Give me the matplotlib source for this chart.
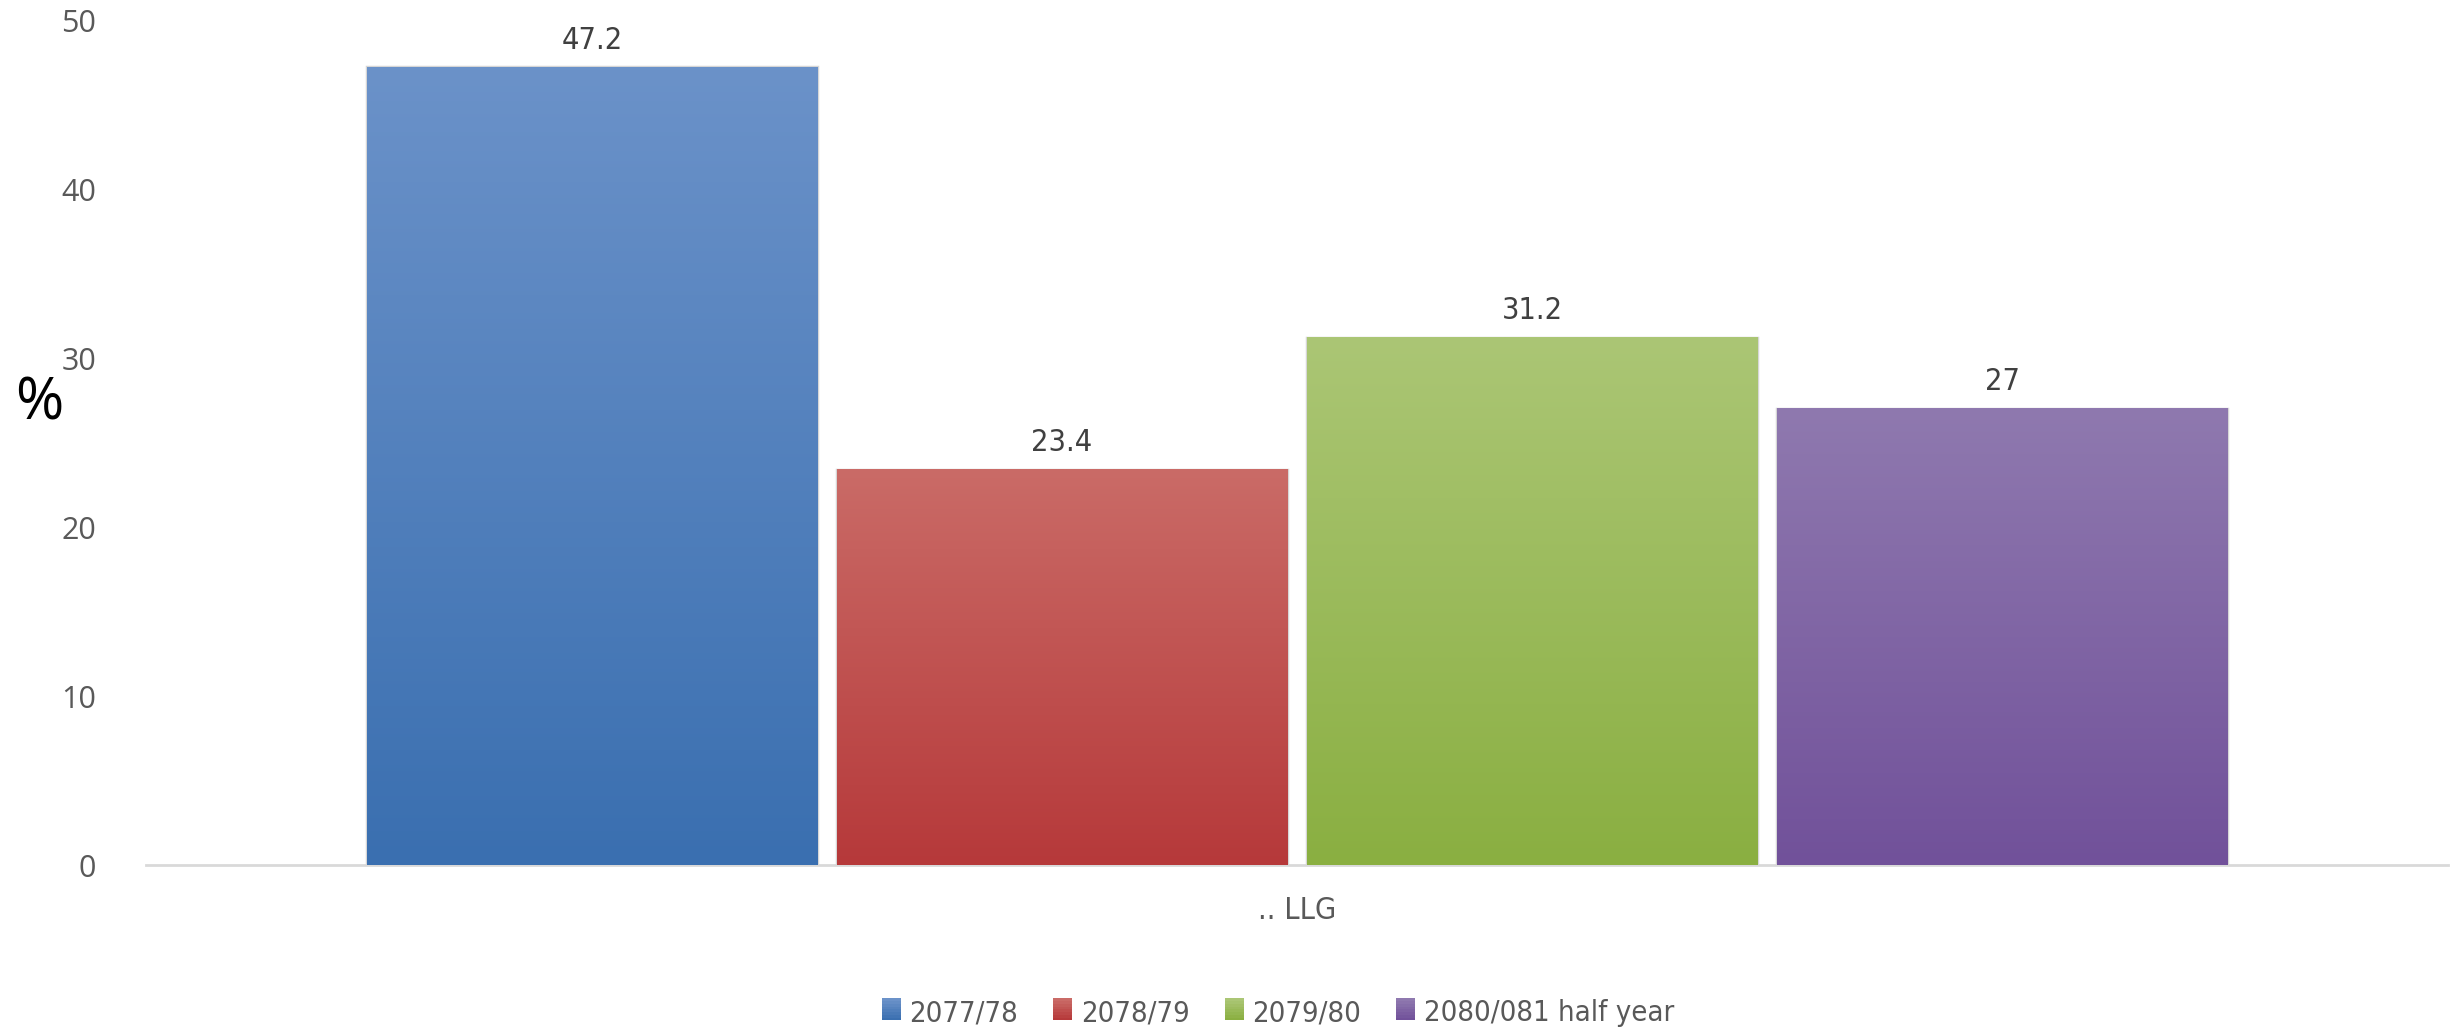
import numpy as np
import matplotlib
matplotlib.use("Agg")
import matplotlib.pyplot as plt
from matplotlib.colors import LinearSegmentedColormap
from matplotlib.patches import Patch
from matplotlib.legend_handler import HandlerBase
from matplotlib import font_manager

# data
category = ".. LLG"
series = ["2077/78", "2078/79", "2079/80", "2080/081 half year"]
values = [47.2, 23.4, 31.2, 27]
labels = ["47.2", "23.4", "31.2", "27"]
# (top colour, bottom colour) of each bar gradient
top_cols = ["#6b92c9", "#ca6b67", "#abc675", "#8f79af"]
bot_cols = ["#3a6fb0", "#b6393a", "#8aaf41", "#71519a"]

# narrow face for the labels, like the Calibri look of the original
names = set(f.name for f in font_manager.fontManager.ttflist)
if "DejaVu Sans Condensed" in names:
	narrow = font_manager.FontProperties(family="DejaVu Sans Condensed")
else:
	narrow = font_manager.FontProperties(family="DejaVu Sans", stretch="condensed")
tickfont = ["Open Sans", "DejaVu Sans"]

def nf(size):
	p = narrow.copy()
	p.set_size(size)
	return p

fig = plt.figure(figsize=(24.53, 10.31), dpi=100)
ax = fig.add_axes([0.0595, 0.161, 0.9385, 0.8196])

width = 0.1955
step = 0.2042
offsets = (np.arange(len(values)) - 1.5) * step

for i, v in enumerate(values):
	x0 = offsets[i] - width / 2
	x1 = offsets[i] + width / 2
	# shadow / outline
	ax.bar(offsets[i], v, width=width, color="none", edgecolor="#d6d6d6", linewidth=2.5, zorder=2)
	cmap = LinearSegmentedColormap.from_list("g%d" % i, [bot_cols[i], top_cols[i]])
	grad = np.linspace(0, 1, 256).reshape(-1, 1)
	ax.imshow(grad, cmap=cmap, origin="lower", extent=(x0, x1, 0, v), aspect="auto", zorder=3)
	ax.text(offsets[i], v + 0.75, labels[i], ha="center", va="bottom", fontproperties=nf(22),
		color="#404040")

ax.set_xlim(-0.5, 0.5)
ax.set_ylim(0, 50)
ax.set_yticks([0, 10, 20, 30, 40, 50])
ax.set_xticks([0])
ax.set_xticklabels([category], fontproperties=nf(22), color="#595959")
for t in ax.get_yticklabels():
	t.set_family(tickfont)
	t.set_fontsize(22)
	t.set_color("#595959")
ax.tick_params(axis="both", length=0)
ax.tick_params(axis="y", pad=36)
ax.tick_params(axis="x", pad=22)

for s in ["top", "right", "left"]:
	ax.spines[s].set_visible(False)
ax.spines["bottom"].set_color("#d9d9d9")
ax.spines["bottom"].set_linewidth(2)
ax.spines["bottom"].set_zorder(1)

fig.text(0.006, 0.608, "%", fontsize=42, color="black", family=tickfont, va="center", ha="left")

# legend keys with the same gradient as the bars
class GradHandler(HandlerBase):
	def __init__(self, i):
		super().__init__()
		self.i = i
	def create_artists(self, legend, orig, xd, yd, w, h, fontsize, trans):
		cmap = LinearSegmentedColormap.from_list("l%d" % self.i, [bot_cols[self.i], top_cols[self.i]])
		arts = []
		n = 8
		for k in range(n):
			r = plt.Rectangle((xd, yd + h * k / n), w, h / n + 0.2, facecolor=cmap(k / (n - 1)),
				edgecolor="none", transform=trans)
			arts.append(r)
		return arts

handles = [Patch(facecolor=bot_cols[i], edgecolor="none") for i in range(len(series))]
hmap = {handles[i]: GradHandler(i) for i in range(len(series))}
leg = fig.legend(handles, series, loc="center", bbox_to_anchor=(0.521, 0.017), ncol=4, frameon=False,
	prop=nf(21), handlelength=0.65, handleheight=0.8, handletextpad=0.3,
	columnspacing=1.2, handler_map=hmap)
for t in leg.get_texts():
	t.set_color("#595959")

fig.savefig("out.png", dpi=100)
